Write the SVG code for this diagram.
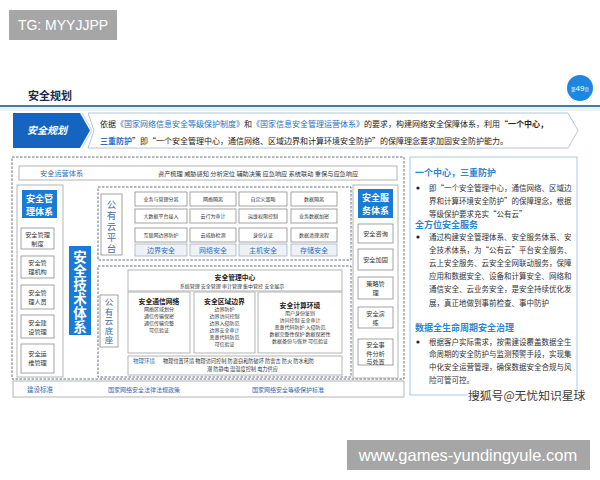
<svg xmlns="http://www.w3.org/2000/svg" width="600" height="480" viewBox="0 0 600 480" xml:lang="zh-CN">
<style>
text{font-family:"Noto Sans CJK SC","Noto Sans",sans-serif;}
.wm{font-family:"Liberation Sans",Arial,sans-serif;fill:#fff;}
.box{fill:#fff;stroke:#8c8c8c;stroke-width:0.8;}
.obox{fill:#fff;stroke:#b4b4b4;stroke-width:1;}
.lbl{fill:#eef2f7;stroke:#9aa6b4;stroke-width:0.7;}
.dash{fill:none;stroke:#55606e;stroke-width:0.9;stroke-dasharray:2.5,1.5;}
.blue{fill:#1a7bd6;}
.wt{fill:#fff;font-weight:700;text-anchor:middle;}
.s7{font-size:6.2px;fill:#333;text-anchor:middle;}
.s5{font-size:5px;fill:#333;text-anchor:middle;}
.s55{font-size:5px;fill:#333;text-anchor:middle;}
.bt{font-size:7px;fill:#2b6cb8;text-anchor:middle;}
.h7{font-size:6.8px;font-weight:700;fill:#222;text-anchor:middle;}
.vt{fill:#4a6a9e;writing-mode:vertical-rl;}
.pt{font-size:7.5px;fill:#333;}
.ph{font-size:9px;font-weight:700;fill:#2a86d0;}
.bn{font-size:8px;fill:#222;}
.bb{fill:#2a6fc0;}
</style>

<!-- top watermark -->
<g id="tg">
<rect x="9" y="10" width="108" height="30" fill="#a6a6a6"/>
<text class="wm" x="63" y="30" font-size="14" text-anchor="middle">TG: MYYJJPP</text>
</g>

<!-- header -->
<g id="header">
<text x="28" y="100" font-size="11" font-weight="700" fill="#1c2a4a">安全规划</text>
<rect x="0" y="107" width="600" height="4" fill="#eaf3f9"/>
<line x1="0" y1="106" x2="600" y2="106" stroke="#3d7ea6" stroke-width="2"/>
<circle cx="580" cy="88" r="13" fill="#1c86e0"/>
<text x="580" y="91" font-size="8" fill="#fff" text-anchor="middle"><tspan font-size="4.5">第</tspan><tspan font-family="Liberation Sans,sans-serif">49</tspan><tspan font-size="4.5">页</tspan></text>
</g>

<!-- banner -->
<g id="banner">
<path d="M88 113 L568 113 L578 130.5 L568 148 L88 148 L94 130.5 Z" fill="#fff" stroke="#a9c0d3" stroke-width="0.9"/>
<path d="M13 113 L80 113 L90 130.5 L80 148 L13 148 Z" fill="#1565c0"/>
<path d="M82 113 L92 130.5 L82 148" fill="none" stroke="#c5d4e2" stroke-width="1"/>
<text x="47" y="134" font-size="10" font-style="italic" font-weight="700" fill="#fff" text-anchor="middle">安全规划</text>
<text class="bn" x="100" y="127">依据<tspan class="bb">《国家网络信息安全等级保护制度》</tspan>和<tspan class="bb">《国家信息安全管理运营体系》</tspan>的要求，构建网络安全保障体系，利用<tspan font-weight="700">“一个中心，</tspan></text>
<text class="bn" x="100" y="144"><tspan class="bb" font-weight="700">三重防护</tspan>”即“一个安全管理中心，通信网络、区域边界和计算环境安全防护”的保障理念要求加固安全防护能力。</text>
</g>

<!-- main dashed frame -->
<rect x="12" y="157" width="392" height="222" class="dash"/>

<!-- operations row -->
<g id="ops">
<rect x="19" y="166" width="378" height="14" class="obox"/>
<text x="40" y="176" font-size="7.2" fill="#2b6cb8">安全运营体系</text>
<text x="158" y="176" font-size="6.2" fill="#333">资产梳理 威胁感知 分析定位  辅助决策  应急响应  系统联动  重保与应急响应</text>
</g>

<!-- left column: management -->
<g id="mgmt">
<rect x="17" y="185" width="46" height="192" class="obox"/>
<rect x="22" y="190" width="35" height="28" class="blue"/>
<text class="wt" font-size="9"><tspan x="39.5" y="201.5">安全管</tspan><tspan x="39.5" y="214.5">理体系</tspan></text>
<rect x="21" y="228" width="33" height="21" class="box"/>
<text class="s7"><tspan x="37.5" y="236.5">安全管理</tspan><tspan x="37.5" y="245.5">制度</tspan></text>
<rect x="21" y="256" width="33" height="22" class="box"/>
<text class="s7"><tspan x="37.5" y="265">安全管</tspan><tspan x="37.5" y="274">理机构</tspan></text>
<rect x="21" y="285" width="33" height="24" class="box"/>
<text class="s7"><tspan x="37.5" y="295">安全管</tspan><tspan x="37.5" y="304">理人员</tspan></text>
<rect x="21" y="315" width="33" height="23" class="box"/>
<text class="s7"><tspan x="37.5" y="324.5">安全建</tspan><tspan x="37.5" y="333.5">设管理</tspan></text>
<rect x="21" y="344" width="33" height="29" class="box"/>
<text class="s7"><tspan x="37.5" y="356">安全运</tspan><tspan x="37.5" y="365">维管理</tspan></text>
</g>

<!-- tech system label -->
<g id="tech">
<rect x="69" y="246" width="22" height="89" class="blue"/>
<text x="80" y="250" font-size="13.5" font-weight="700" fill="#fff" writing-mode="vertical-rl" letter-spacing="0.5">安全技术体系</text>
</g>

<!-- public cloud platform -->
<g id="cloud-platform">
<rect x="98" y="187" width="253" height="73" class="dash"/>
<rect x="101" y="194" width="21" height="61" class="box"/>
<text class="vt" x="111.5" y="199.5" font-size="9.5" letter-spacing="1.5">公有云平台</text>

<rect x="135" y="192" width="52" height="14" class="box"/><text class="s5" x="161" y="201">业务与管理分离</text>
<rect x="135" y="209" width="52" height="14" class="box"/><text class="s5" x="161" y="218">大数据平台接入</text>
<rect x="135" y="228" width="52" height="14" class="box"/><text class="s5" x="161" y="237">互联网边界防护</text>
<rect x="135" y="244" width="52" height="12" class="lbl"/><text class="bt" x="161" y="253">边界安全</text>

<rect x="190" y="192" width="46" height="14" class="box"/><text class="s5" x="213" y="201">网络隔离</text>
<rect x="190" y="209" width="46" height="14" class="box"/><text class="s5" x="213" y="218">云行为审计</text>
<rect x="190" y="228" width="46" height="14" class="box"/><text class="s5" x="213" y="237">云威胁检测</text>
<rect x="190" y="244" width="46" height="12" class="lbl"/><text class="bt" x="213" y="253">网络安全</text>

<rect x="239" y="192" width="48" height="14" class="box"/><text class="s5" x="263" y="201">自定义策略</text>
<rect x="239" y="209" width="48" height="14" class="box"/><text class="s5" x="263" y="218">运维权限控制</text>
<rect x="239" y="228" width="48" height="14" class="box"/><text class="s5" x="263" y="237">身份认证</text>
<rect x="239" y="244" width="48" height="12" class="lbl"/><text class="bt" x="263" y="253">主机安全</text>

<rect x="291" y="192" width="46" height="14" class="box"/><text class="s5" x="314" y="201">数据隔离</text>
<rect x="291" y="209" width="46" height="14" class="box"/><text class="s5" x="314" y="218">业务数据加密</text>
<rect x="291" y="228" width="46" height="14" class="box"/><text class="s5" x="314" y="237">数据清理流程</text>
<rect x="291" y="244" width="46" height="12" class="lbl"/><text class="bt" x="314" y="253">存储安全</text>
</g>

<!-- public cloud base -->
<g id="cloud-base">
<rect x="98" y="266" width="253" height="111" class="dash"/>
<rect x="100" y="295" width="18" height="52" class="box"/>
<text class="vt" x="109" y="298" font-size="8.5" letter-spacing="1">公有云底座</text>

<rect x="128" y="270" width="214" height="21" class="obox"/>
<text class="h7" x="235" y="280">安全管理中心</text>
<text class="s5" x="232" y="288">系统管理  安全管理  审计管理  集中管控  安全展示</text>

<rect x="128" y="292" width="62" height="61" class="obox"/>
<text class="h7" x="159" y="303.5">安全通信网络</text>
<text class="s55"><tspan x="159" y="311">网络区域划分</tspan><tspan x="159" y="318">通信传输保密</tspan><tspan x="159" y="325">通信传输完整</tspan><tspan x="159" y="332">可信验证</tspan></text>

<rect x="194" y="292" width="61" height="61" class="obox"/>
<text class="h7" x="224.5" y="303.5">安全区域边界</text>
<text class="s55"><tspan x="224.5" y="311">边界防护</tspan><tspan x="224.5" y="318">边界访问控制</tspan><tspan x="224.5" y="325">边界入侵防范</tspan><tspan x="224.5" y="332">边界安全审计</tspan><tspan x="224.5" y="339">恶意代码防范</tspan><tspan x="224.5" y="346">可信验证</tspan></text>

<rect x="258" y="292" width="84" height="61" class="obox"/>
<text class="h7" x="300" y="307.5">安全计算环境</text>
<text class="s55"><tspan x="300" y="315">用户身份鉴别</tspan><tspan x="300" y="322">访问控制  安全审计</tspan><tspan x="300" y="329">恶意代码防护  入侵防范</tspan><tspan x="300" y="336">数据完整性保护  数据保密性</tspan><tspan x="300" y="343">数据备份与恢复  可信验证</tspan></text>

<rect x="128" y="356" width="214" height="19" class="obox"/>
<text font-size="5.2" fill="#333"><tspan x="133" y="362.5" font-size="5.5" fill="#2b6cb8">物理环境</tspan><tspan x="163" y="362.5">物理位置环境  物理访问控制  防盗窃和防破坏  防雷击  防火  防水和防</tspan><tspan x="207" y="370.5">潮  防静电  温湿度控制  电力供应</tspan></text>
</g>

<!-- right column: services -->
<g id="service">
<rect x="353" y="185" width="45" height="193" class="obox"/>
<rect x="358" y="189" width="35" height="29" class="blue"/>
<text class="wt" font-size="9"><tspan x="375.5" y="201">安全服</tspan><tspan x="375.5" y="214">务体系</tspan></text>
<rect x="358" y="224" width="35" height="19" class="box"/>
<text class="s7" x="375.5" y="236">安全咨询</text>
<rect x="358" y="249" width="35" height="21" class="box"/>
<text class="s7" x="375.5" y="262">安全加固</text>
<rect x="358" y="277" width="35" height="22" class="box"/>
<text class="s7"><tspan x="375.5" y="286">策略管</tspan><tspan x="375.5" y="295">理</tspan></text>
<rect x="358" y="307" width="35" height="21" class="box"/>
<text class="s7"><tspan x="375.5" y="315.5">安全演</tspan><tspan x="375.5" y="324.5">练</tspan></text>
<rect x="358" y="339" width="35" height="26" class="box"/>
<text class="s7" font-size="5.8"><tspan x="375.5" y="347">安全事</tspan><tspan x="375.5" y="355.5">件分析</tspan><tspan x="375.5" y="364">与处置</tspan></text>
</g>

<!-- standards row -->
<g id="standards">
<rect x="13" y="381" width="391" height="16" class="obox"/>
<text x="27" y="392" font-size="6.5" fill="#2b6cb8">建设标准</text>
<text x="108" y="392" font-size="6" fill="#2b6cb8">国家网络安全法律法规政策</text>
<text x="252" y="392" font-size="6" fill="#2b6cb8">国家网络安全等级保护标准</text>
</g>

<!-- right text panel -->
<g id="panel">
<rect x="410" y="157" width="167" height="238" fill="#fff" stroke="#a9cce6" stroke-width="1"/>
<text class="ph" x="415" y="176">一个中心，三重防护</text>
<circle cx="418" cy="188" r="1.6" fill="#222"/>
<text class="pt"><tspan x="429" y="191">即“一个安全管理中心，通信网络、区域边</tspan><tspan x="429" y="204">界和计算环境安全防护”的保障理念，根据</tspan><tspan x="429" y="217">等级保护要求充实“公有云”</tspan></text>
<text class="ph" x="415" y="228">全方位安全服务</text>
<circle cx="418" cy="237" r="1.6" fill="#222"/>
<text class="pt"><tspan x="429" y="240">通过构建安全管理体系、安全服务体系、安</tspan><tspan x="429" y="253">全技术体系，为“公有云”平台安全服务、</tspan><tspan x="429" y="266">云上安全服务、云安全全网联动服务，保障</tspan><tspan x="429" y="279">应用和数据安全、设备和计算安全、网络和</tspan><tspan x="429" y="292">通信安全、云业务安全，是安全持续优化发</tspan><tspan x="429" y="306">展，真正地做到事前检查、事中防护</tspan></text>
<text class="ph" x="415" y="331">数据全生命周期安全治理</text>
<circle cx="418" cy="342" r="1.6" fill="#222"/>
<text class="pt"><tspan x="429" y="345">根据客户实际需求，按需建设覆盖数据全生</tspan><tspan x="429" y="357">命周期的安全防护与监测预警手段，实现集</tspan><tspan x="429" y="370">中化安全运营管理，确保数据安全合规与风</tspan><tspan x="429" y="383">险可管可控。</tspan></text>
</g>

<!-- watermarks -->
<text x="468" y="400" font-size="11.8" fill="#3a3a3a" stroke="#fff" stroke-width="2" paint-order="stroke">搜狐号@无忧知识星球</text>
<g id="site">
<rect x="347" y="440" width="243" height="30" fill="#a6a6a6"/>
<text class="wm" x="468" y="461" font-size="16.5" text-anchor="middle">www.games-yundingyule.com</text>
</g>
</svg>
